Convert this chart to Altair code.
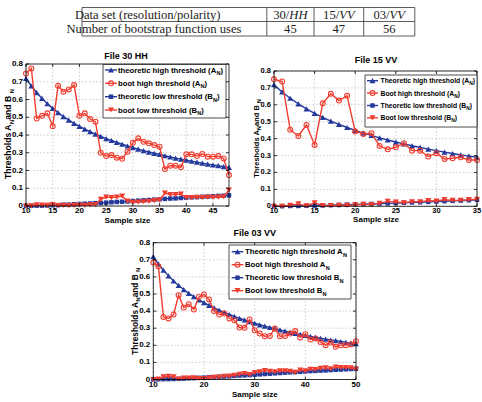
import altair as alt
import pandas as pd

# ------------------------------------------------------------------ data
row_headers = ["Data set (resolution/polarity)", "Number of bootstrap function uses"]
datasets = ["30/HH", "15/VV", "03/VV"]
bootstrap_uses = [45, 47, 56]

N_all = list(range(10, 51))
theo_high = [0.719, 0.676, 0.639, 0.606, 0.576, 0.550, 0.526, 0.504, 0.484, 0.466,
             0.449, 0.433, 0.419, 0.405, 0.392, 0.380, 0.369, 0.358, 0.348, 0.338,
             0.329, 0.320, 0.312, 0.304, 0.297, 0.290, 0.283, 0.276, 0.270, 0.264,
             0.258, 0.252, 0.247, 0.241, 0.236, 0.231, 0.227, 0.222, 0.217, 0.213, 0.209]
theo_low = [0.000, 0.001, 0.002, 0.002, 0.003, 0.004, 0.005, 0.007, 0.008, 0.010,
            0.011, 0.013, 0.014, 0.016, 0.017, 0.019, 0.021, 0.023, 0.024, 0.026,
            0.028, 0.030, 0.032, 0.034, 0.036, 0.038, 0.040, 0.042, 0.043, 0.045,
            0.047, 0.049, 0.050, 0.052, 0.053, 0.055, 0.057, 0.058, 0.060, 0.061, 0.063]

boot_high_30HH = [0.747, 0.775, 0.493, 0.508, 0.522, 0.450, 0.677, 0.644, 0.657, 0.681,
                  0.508, 0.522, 0.490, 0.475, 0.300, 0.281, 0.287, 0.272, 0.266, 0.306,
                  0.356, 0.381, 0.362, 0.353, 0.343, 0.334, 0.208, 0.227, 0.227, 0.218,
                  0.291, 0.291, 0.281, 0.293, 0.278, 0.278, 0.281, 0.268, 0.174]
boot_low_30HH = [0.000, 0.001, 0.006, 0.005, 0.004, 0.008, 0.002, 0.003, 0.002, 0.003,
                 0.005, 0.004, 0.006, 0.008, 0.037, 0.050, 0.047, 0.050, 0.056, 0.028,
                 0.020, 0.022, 0.024, 0.026, 0.030, 0.035, 0.073, 0.064, 0.064, 0.067,
                 0.047, 0.047, 0.049, 0.047, 0.050, 0.049, 0.050, 0.052, 0.090]

boot_high_15VV = [0.751, 0.738, 0.452, 0.416, 0.481, 0.363, 0.609, 0.665, 0.625, 0.653,
                  0.442, 0.428, 0.432, 0.357, 0.337, 0.349, 0.373, 0.329, 0.329, 0.294,
                  0.314, 0.280, 0.284, 0.290, 0.274, 0.274]
boot_low_15VV = [0.000, 0.000, 0.006, 0.014, 0.002, 0.021, 0.004, 0.004, 0.006, 0.006,
                 0.008, 0.012, 0.010, 0.017, 0.029, 0.025, 0.021, 0.027, 0.027, 0.033,
                 0.031, 0.039, 0.035, 0.035, 0.039, 0.041]

boot_high_03VV = [0.684, 0.663, 0.366, 0.357, 0.380, 0.493, 0.421, 0.440, 0.409, 0.483,
                  0.497, 0.468, 0.400, 0.380, 0.386, 0.357, 0.347, 0.304, 0.302, 0.351,
                  0.288, 0.269, 0.253, 0.255, 0.298, 0.253, 0.255, 0.269, 0.283, 0.246,
                  0.265, 0.234, 0.240, 0.220, 0.201, 0.216, 0.191, 0.201, 0.201, 0.205, 0.224]
boot_low_03VV = [0.000, 0.002, 0.015, 0.018, 0.015, 0.003, 0.008, 0.008, 0.010, 0.006,
                 0.006, 0.008, 0.012, 0.014, 0.018, 0.020, 0.024, 0.030, 0.035, 0.028,
                 0.040, 0.045, 0.052, 0.048, 0.045, 0.050, 0.050, 0.048, 0.042, 0.055,
                 0.050, 0.060, 0.058, 0.065, 0.068, 0.062, 0.072, 0.070, 0.070, 0.068, 0.060]

y_ticks = [0, 0.1, 0.2, 0.3, 0.4, 0.5, 0.6, 0.7, 0.8]
x_ticks_30HH = [10, 15, 20, 25, 30, 35, 40, 45]
x_ticks_15VV = [10, 15, 20, 25, 30, 35]
x_ticks_03VV = [10, 20, 30, 40, 50]

labels_30HH = [("theoretic high threshold (A", "N", ")"), ("boot high threshold (A", "N", ")"),
               ("theoretic low threshold (B", "N", ")"), ("boot low threshold (B", "N", ")")]
labels_15VV = [("Theoretic high threshold (A", "N", ")"), ("Boot high threshold (A", "N", ")"),
               ("Theoretic low threshold (B", "N", ")"), ("Boot low threshold (B", "N", ")")]
labels_03VV = [("Theoretic high threshold A", "N", ""), ("Boot high threshold A", "N", ""),
               ("Theoretic low threshold B", "N", ""), ("Boot low threshold B", "N", "")]

# ------------------------------------------------------------------ style
SANS = "Liberation Sans"
SERIF = "Liberation Serif"
BLUE = "#23399c"
RED = "#f03d2f"
ONE = pd.DataFrame({"k": [0]})

SERIES = [("th", BLUE, "triangle-up", True, 36),
          ("bh", RED, "circle", False, 24),
          ("tl", BLUE, "square", True, 20),
          ("bl", RED, "triangle-down", True, 36)]

ARIAL_B = {" ": 278, "(": 333, ")": 333, ".": 278, "/": 278, "A": 722, "B": 722, "F": 611,
           "H": 722, "N": 722, "S": 667, "T": 611, "V": 667, "a": 556, "b": 611, "c": 556,
           "d": 611, "e": 556, "f": 333, "g": 611, "h": 611, "i": 278, "k": 556, "l": 278,
           "m": 889, "n": 611, "o": 611, "p": 611, "r": 389, "s": 556, "t": 333, "u": 611,
           "w": 778, "y": 556, "z": 500}
for _d in "0123456789":
    ARIAL_B[_d] = 556
TIMES = {" ": 250, "/": 278}
for _d in "0123456789":
    TIMES[_d] = 500
TIMES_I = {"H": 722, "V": 611}


def text_width(s, size, table):
    return sum(table.get(ch, 556) for ch in s) * size / 1000.0


def rich(pieces, x, y, size, angle=0, center=False, font=SANS, weight="bold",
         color="black", table=ARIAL_B, italic_table=TIMES_I):
    items = []
    for t, kind in pieces:
        fs = size * 0.72 if kind == "sub" else size
        tab = italic_table if kind == "it" else table
        items.append((t, kind, fs, text_width(t, fs, tab)))
    total = sum(i[3] for i in items)
    off = -total / 2.0 if center else 0.0
    out = []
    for t, kind, fs, w in items:
        if t:
            out.append(alt.Chart(ONE).mark_text(
                text=t, font=font, fontSize=fs, fontWeight=weight,
                fontStyle="italic" if kind == "it" else "normal", color=color,
                align="left", baseline="alphabetic", angle=angle, dx=off,
                dy=(0.3 * size if kind == "sub" else 0)
            ).encode(x=alt.value(x), y=alt.value(y)))
        off += w
    return out


def panel(n_max, boot_high, boot_low, x_ticks, xr, yr, label_size,
          title, title_pos, xlab_pos, ylab, legend):
    n = [v for v in N_all if v <= n_max]
    k = len(n)
    df = pd.DataFrame({"N": n, "th": theo_high[:k], "bh": boot_high,
                       "tl": theo_low[:k], "bl": boot_low})
    xs = alt.Scale(domain=[10, n_max], range=list(xr), nice=False, zero=False)
    ys = alt.Scale(domain=[0, 0.8], range=list(yr), nice=False, zero=False)

    def X(f):
        return alt.X(f, type="quantitative", scale=xs, axis=None)

    def Y(f):
        return alt.Y(f, type="quantitative", scale=ys, axis=None)

    def XD(v):
        return alt.XDatum(v, type="quantitative", scale=xs, axis=None)

    def YD(v):
        return alt.YDatum(v, type="quantitative", scale=ys, axis=None)

    ydf = pd.DataFrame({"v": y_ticks,
                        "lab": ["0" if v == 0 else f"{v:.1f}" for v in y_ticks]})
    xdf = pd.DataFrame({"v": x_ticks, "lab": [str(v) for v in x_ticks]})

    grid = dict(color="#b8b8b8", strokeWidth=0.7, strokeDash=[1.5, 2])
    layers = [
        alt.Chart(ydf).mark_rule(**grid).encode(x=XD(10), x2=alt.X2Datum(n_max), y=Y("v")),
        alt.Chart(xdf).mark_rule(**grid).encode(x=X("v"), y=YD(0), y2=alt.Y2Datum(0.8)),
    ]
    for col, color, shape, filled, size in SERIES:
        layers.append(alt.Chart(df).mark_line(color=color, strokeWidth=1.4).encode(
            x=X("N"), y=Y(col)))
        layers.append(alt.Chart(df).mark_point(
            shape=shape, filled=filled, color=color, size=size, strokeWidth=1.1, opacity=1
        ).encode(x=X("N"), y=Y(col)))

    fr = dict(color="black", strokeWidth=0.8)
    layers += [
        alt.Chart(ONE).mark_rule(**fr).encode(x=XD(10), x2=alt.X2Datum(n_max), y=YD(0.8)),
        alt.Chart(ONE).mark_rule(**fr).encode(x=XD(10), x2=alt.X2Datum(n_max), y=YD(0)),
        alt.Chart(ONE).mark_rule(**fr).encode(x=XD(10), y=YD(0), y2=alt.Y2Datum(0.8)),
        alt.Chart(ONE).mark_rule(**fr).encode(x=XD(n_max), y=YD(0), y2=alt.Y2Datum(0.8)),
        alt.Chart(ydf).mark_rule(x2Offset=3, **fr).encode(x=XD(10), x2=alt.X2Datum(10), y=Y("v")),
        alt.Chart(ydf).mark_rule(x2Offset=-3, **fr).encode(x=XD(n_max), x2=alt.X2Datum(n_max), y=Y("v")),
        alt.Chart(xdf).mark_rule(y2Offset=-3, **fr).encode(x=X("v"), y=YD(0), y2=alt.Y2Datum(0)),
        alt.Chart(xdf).mark_rule(y2Offset=3, **fr).encode(x=X("v"), y=YD(0.8), y2=alt.Y2Datum(0.8)),
    ]
    lab_style = dict(font=SANS, fontSize=label_size, fontWeight="bold", color="black")
    layers += [
        alt.Chart(ydf).mark_text(align="right", baseline="middle", dx=-3, **lab_style).encode(
            x=XD(10), y=Y("v"), text="lab:N"),
        alt.Chart(xdf).mark_text(align="center", baseline="top", dy=1, **lab_style).encode(
            x=X("v"), y=YD(0), text="lab:N"),
    ]

    # legend
    bx0, by0, bx1, by1 = legend["box"]
    lx0, lx1 = legend["line"]
    mx, tx, fs = legend["marker"], legend["text_x"], legend["size"]
    layers.append(alt.Chart(ONE).mark_rect(fill="white", stroke="#222", strokeWidth=0.8).encode(
        x=alt.value(bx0), x2=alt.value(bx1), y=alt.value(by0), y2=alt.value(by1)))
    for (col, color, shape, filled, size), yy, lab in zip(SERIES, legend["ys"], legend["labels"]):
        layers.append(alt.Chart(ONE).mark_rule(color=color, strokeWidth=1.4).encode(
            x=alt.value(lx0), x2=alt.value(lx1), y=alt.value(yy)))
        layers.append(alt.Chart(ONE).mark_point(
            shape=shape, filled=filled, color=color, size=size, strokeWidth=1.1, opacity=1
        ).encode(x=alt.value(mx), y=alt.value(yy)))
        layers += rich([(lab[0], "n"), (lab[1], "sub"), (lab[2], "n")], tx, yy + 0.36 * fs, fs)

    layers += rich([(title, "n")], title_pos[0], title_pos[1], 9, center=True)
    layers += rich([("Sample size", "n")], xlab_pos[0], xlab_pos[1], 8, center=True)
    layers += rich([("Thresholds A", "n"), ("N", "sub"), (" and B", "n"), ("N", "sub")],
                   ylab[0], ylab[1], ylab[2], angle=270, center=True)
    return alt.layer(*layers)


# ------------------------------------------------------------------ table
hl_y = [7.5, 21.5, 36]
vl_x = [82, 266.8, 314, 363.7, 414.8]
col_c = [(vl_x[i] + vl_x[i + 1]) / 2 for i in range(4)]
tline = dict(color="#333", strokeWidth=0.8)
tlayers = []
for yv in hl_y:
    tlayers.append(alt.Chart(ONE).mark_rule(**tline).encode(
        x=alt.value(vl_x[0]), x2=alt.value(vl_x[-1]), y=alt.value(yv)))
for xv in vl_x:
    tlayers.append(alt.Chart(ONE).mark_rule(**tline).encode(
        x=alt.value(xv), y=alt.value(hl_y[0]), y2=alt.value(hl_y[-1])))
row_base = [18.8, 33.0]
TFS = 12.6
tstyle = dict(font=SERIF, weight="normal", color="#222", table=TIMES)
for r, txt in enumerate(row_headers):
    tlayers += rich([(txt, "n")], col_c[0], row_base[r], TFS, center=True, **tstyle)
for c, (ds, u) in enumerate(zip(datasets, bootstrap_uses)):
    pre, post = ds.split("/")
    tlayers += rich([(pre + "/", "n"), (post, "it")], col_c[c + 1], row_base[0], TFS,
                    center=True, **tstyle)
    tlayers += rich([(str(u), "n")], col_c[c + 1], row_base[1], TFS, center=True, **tstyle)
table = alt.layer(*tlayers)

# ------------------------------------------------------------------ panels
p1 = panel(48, boot_high_30HH, boot_low_30HH, x_ticks_30HH, (26, 229), (206, 64), 8,
           "File 30 HH", (126, 59), (127.5, 223), (11, 134, 8.6),
           dict(box=(103, 64.5, 226, 118), ys=[70, 83.3, 96.7, 110], line=(105, 117),
                marker=111, text_x=118, size=7.7, labels=labels_30HH))
p2 = panel(35, boot_high_15VV, boot_low_15VV, x_ticks_15VV, (274, 477), (206.3, 71), 7.5,
           "File 15 VV", (376, 63), (376, 221.8), (259, 138.5, 7.5),
           dict(box=(365, 75, 477, 127), ys=[80.7, 93.1, 105.5, 117.9], line=(367, 378),
                marker=372.5, text_x=380.5, size=6.8, labels=labels_15VV))
p3 = panel(50, boot_high_03VV, boot_low_03VV, x_ticks_03VV, (153.3, 356), (379.5, 242.7), 8,
           "File 03 VV", (254.8, 236), (254.8, 396.5), (137.5, 311.2, 8.3),
           dict(box=(229, 245, 351, 299), ys=[251.7, 264.7, 277.7, 290.7], line=(231.7, 243.3),
                marker=237.5, text_x=245, size=7.7, labels=labels_03VV))

chart = alt.layer(table, p1, p2, p3).resolve_scale(
    x="independent", y="independent"
).properties(
    width=482, height=402, padding=0, background="white",
    autosize=alt.AutoSizeParams(type="none")
).configure_view(stroke=None)

chart.save("out.html", embed_options={"renderer": "svg", "actions": False})
